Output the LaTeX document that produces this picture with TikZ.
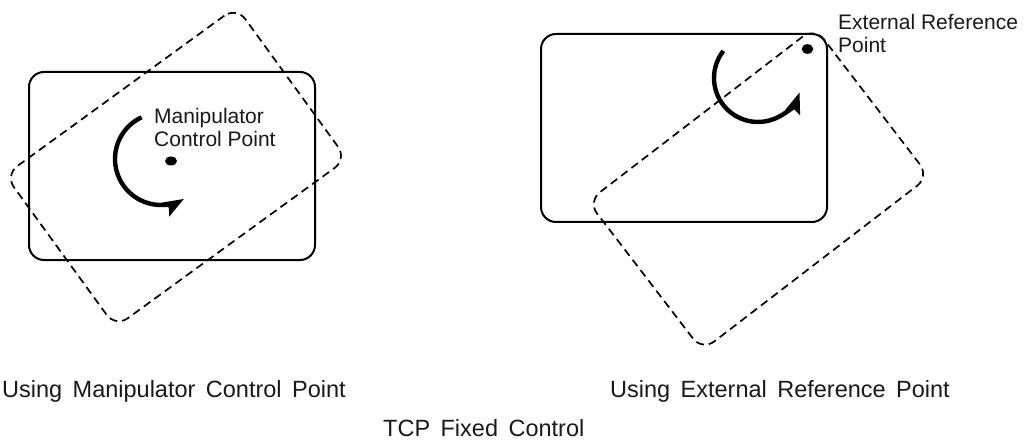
\documentclass[tikz,border=0pt]{standalone}
\usepackage{fontspec}
\setmainfont{Liberation Sans}
\newfontfamily\lblfont{Liberation Sans}[WordSpace=1.6]
\usetikzlibrary{arrows.meta}
\begin{document}
\begin{tikzpicture}[x=1pt,y=1pt,
  plate/.style={draw=black, line width=2pt, rounded corners=15pt, minimum width=286pt, minimum height=188pt, inner sep=0pt},
  moved/.style={plate, line width=1.7pt, dash pattern=on 8pt off 5pt},
  turn/.style={line width=4.4pt, -{Stealth[length=21pt,width=15pt,inset=3.5pt]}},
  small/.style={font=\fontsize{21}{23.5}\selectfont, inner sep=0pt, anchor=base west, align=left, text=black!90},
  caption/.style={font=\lblfont\fontsize{23.5}{27}\selectfont, inner sep=0pt, anchor=base west, text=black!90}]
\useasboundingbox (0,0) rectangle (1032,442);

% left figure
\node[plate] (lplate) at (172,276) {};
\node[moved, rotate=36] (lmoved) at (176,275) {};
\coordinate (lpt) at (171,281);
\fill (lpt) ellipse [x radius=6pt, y radius=4.5pt];
\coordinate (lc) at (161,283);
\draw[turn] ([shift={(115:46)}]lc) arc [start angle=115, end angle=300, radius=46];
\node[small] (ltxt) at (154,295) {Manipulator\\Control Point};

% right figure
\node[plate] (rplate) at (684,314) {};
\node[moved, rotate=37.5] (rmoved) at (758.5,253) {};
\coordinate (rpt) at (807.5,393);
\fill (rpt) ellipse [x radius=5.8pt, y radius=4.8pt];
\coordinate (rc) at (758,364);
\draw[turn] ([shift={(142:44)}]rc) arc [start angle=142, end angle=341, radius=44];
\node[small] (rtxt) at (838,389) {External Reference\\Point};

% captions
\node[caption] (lcap) at (2,45) {Using Manipulator Control Point};
\node[caption] (rcap) at (610,45) {Using External Reference Point};
\node[caption] (title) at (383,6) {TCP Fixed Control};
\end{tikzpicture}
\end{document}
